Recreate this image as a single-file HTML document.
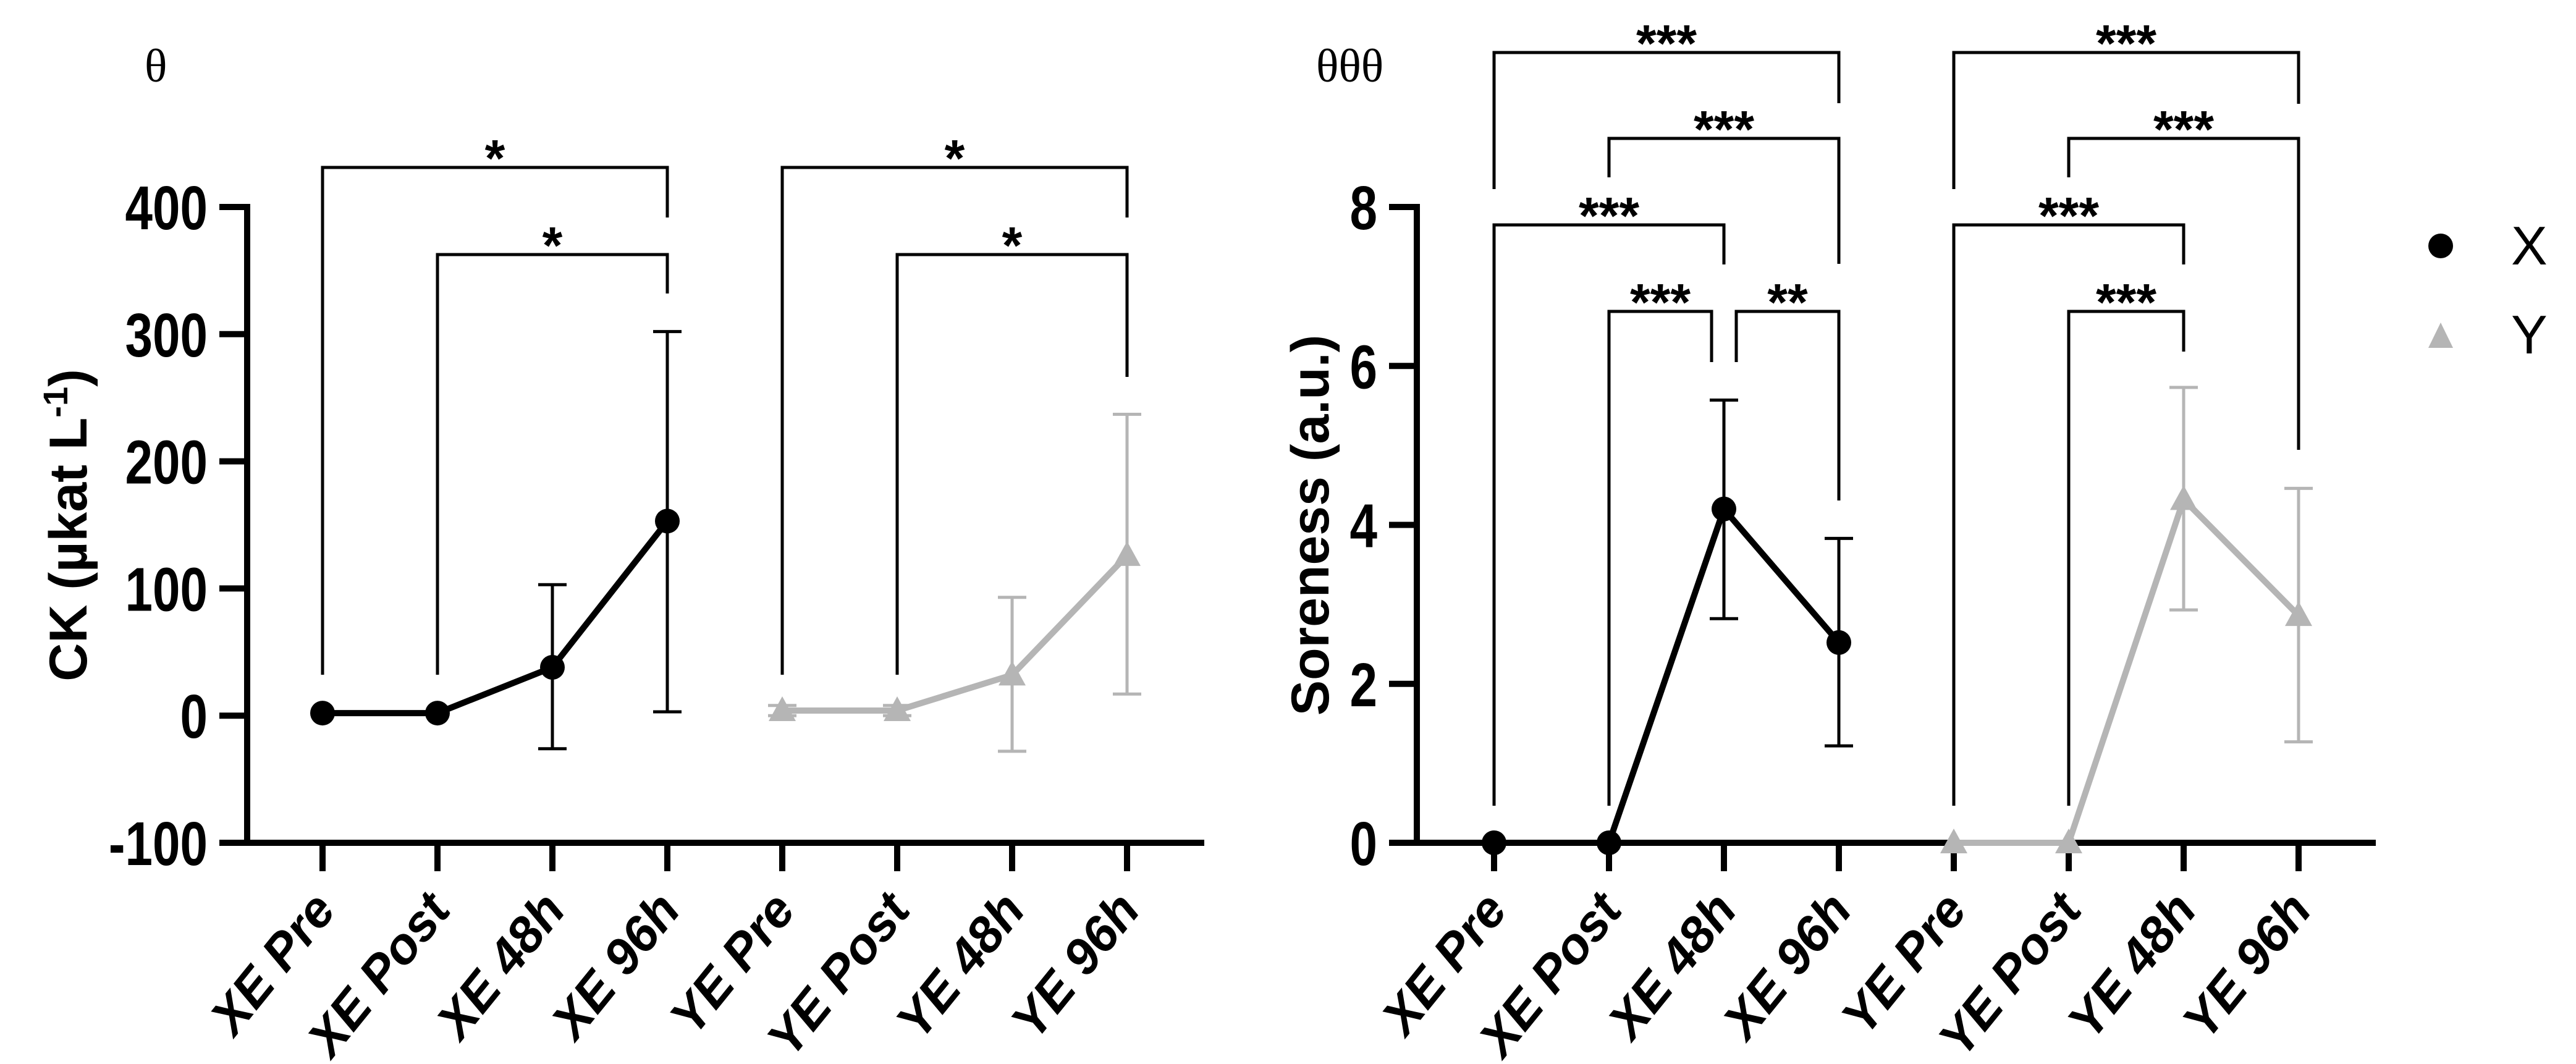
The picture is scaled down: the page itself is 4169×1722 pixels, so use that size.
<!DOCTYPE html>
<html><head><meta charset="utf-8"><style>
html,body{margin:0;padding:0;background:#fff;}
svg{display:block;}
text{font-family:"Liberation Sans",Arial,sans-serif;}
</style></head><body>
<svg id="fig" width="4169" height="1722" viewBox="0 0 4169 1722" xmlns="http://www.w3.org/2000/svg"></svg>
<script>
const categories = ["XE Pre","XE Post","XE 48h","XE 96h","YE Pre","YE Post","YE 48h","YE 96h"];
// CK chart
const ckTicks = [-100,0,100,200,300,400];
const ckXMean = [2,2,38,153];
const ckXLow  = [null,null,-26,3];
const ckXHigh = [null,null,103,302];
const ckYMean = [4,4,32,126];
const ckYLow  = [0,0,-28,17];
const ckYHigh = [8,8,93,237];
// Soreness chart
const soreTicks = [0,2,4,6,8];
const soreXMean = [0,0,4.2,2.52];
const soreXLow  = [null,null,2.82,1.22];
const soreXHigh = [null,null,5.57,3.83];
const soreYMean = [0,0,4.32,2.86];
const soreYLow  = [null,null,2.93,1.27];
const soreYHigh = [null,null,5.73,4.46];
const legendLabels = ["X","Y"];

const NS="http://www.w3.org/2000/svg";
const svg=document.getElementById('fig');
function mk(tag,attrs,parent,name){const e=document.createElementNS(NS,tag);for(const k in attrs)e.setAttribute(k,attrs[k]);


(parent||svg).appendChild(e);return e;}
const GRAY="#b5b5b5";

function chart(cfg){
  const g=mk('g',{},svg,cfg.name);
  const yTop=335,yBot=1364;
  const ys=v=>yBot-(v-cfg.min)/(cfg.max-cfg.min)*(yBot-yTop);
  const xs=i=>cfg.x0+i*cfg.step+(i>=4?cfg.gap:0);
  const xEnd=xs(7)+125;
  mk('line',{x1:cfg.ax,y1:yTop-5,x2:cfg.ax,y2:yBot+5,stroke:'#000','stroke-width':10},g,'y-axis-line');
  mk('line',{x1:cfg.ax-45,y1:yBot,x2:xEnd,y2:yBot,stroke:'#000','stroke-width':10},g,'x-axis-line');
  cfg.ticks.forEach(t=>{
    const y=ys(t);
    mk('line',{x1:cfg.ax-45,y1:y,x2:cfg.ax,y2:y,stroke:'#000','stroke-width':10},g,'y-tick');
    const tx=mk('text',{x:0,y:0,'text-anchor':'end','font-size':100,'font-weight':'bold',transform:`translate(${cfg.ax-64} ${y+36}) scale(0.8 1)`},g,'y-tick-label');
    tx.textContent=t;
  });
  categories.forEach((c,i)=>{
    const x=xs(i);
    mk('line',{x1:x,y1:yBot,x2:x,y2:yBot+46,stroke:'#000','stroke-width':10},g,'x-tick');
    const ax=x+24, ay=1474;
    const tx=mk('text',{x:ax,y:ay,'text-anchor':'end','font-size':82,'font-weight':'bold','font-style':'italic',transform:`rotate(-51 ${ax} ${ay})`},g,'x-tick-label');
    tx.textContent=c;
  });
  const yt=mk('text',{x:cfg.titleX,y:850,'text-anchor':'middle','font-size':86,'font-weight':'bold',transform:`rotate(-90 ${cfg.titleX} 850)`},g,'y-axis-title');
  yt.innerHTML=cfg.title;
  const th=mk('text',{x:cfg.thetaX,y:132,'font-size':76},g,'panel-label');
  th.setAttribute('style','font-family:"Liberation Serif",serif');
  th.textContent=cfg.theta;
  cfg.brackets.forEach(b=>{
    const x1=xs(b[0])+(b[5]||0),x2=xs(b[1])+(b[6]||0),y=b[2];
    mk('path',{d:`M${x1} ${b[3]} V${y} H${x2} V${b[4]}`,fill:'none',stroke:'#000','stroke-width':5},g,'significance-bracket');
    const s=mk('text',{x:(x1+x2)/2,y:y+14,'text-anchor':'middle','font-size':84,'font-weight':'bold'},g,'significance-stars');
    s.textContent=b[7];
  });
  cfg.series.forEach((s,si)=>{
    const sg=mk('g',{},g,si===0?'series-x':'series-y');
    const col=si===0?'#000':GRAY;
    const off=si===0?0:4;
    s.low.forEach((lo,i)=>{
      if(lo===null)return;const x=xs(i+off);
      mk('line',{x1:x,y1:ys(lo),x2:x,y2:ys(s.high[i]),stroke:col,'stroke-width':5},sg,'error-bar');
      mk('line',{x1:x-23,y1:ys(lo),x2:x+23,y2:ys(lo),stroke:col,'stroke-width':5},sg,'error-cap');
      mk('line',{x1:x-23,y1:ys(s.high[i]),x2:x+23,y2:ys(s.high[i]),stroke:col,'stroke-width':5},sg,'error-cap');
    });
    const pts=s.mean.map((v,i)=>`${xs(i+off)},${ys(v)}`).join(' ');
    mk('polyline',{points:pts,fill:'none',stroke:col,'stroke-width':10},sg,'series-line');
    s.mean.forEach((v,i)=>{
      const x=xs(i+off),y=ys(v);
      if(si===0)mk('circle',{cx:x,cy:y,r:20,fill:col},sg,'data-point');
      else mk('polygon',{points:`${x},${y-23} ${x-22},${y+17} ${x+22},${y+17}`,fill:col},sg,'data-point');
    });
  });
}

chart({name:'ck-chart',min:-100,max:400,ticks:ckTicks,ax:400,x0:522,step:186,gap:0,titleX:140,
  title:'CK (µkat L<tspan baseline-shift="super" font-size="56">-1</tspan>)',thetaX:234,theta:'θ',
  brackets:[[0,3,271,1092,352,0,0,'*'],[1,3,412,1092,475,0,0,'*'],[4,7,271,1092,352,0,0,'*'],[5,7,412,1092,610,0,0,'*']],
  series:[{mean:ckXMean,low:ckXLow,high:ckXHigh},{mean:ckYMean,low:ckYLow,high:ckYHigh}]});

chart({name:'soreness-chart',min:0,max:8,ticks:soreTicks,ax:2293,x0:2418,step:186,gap:0,titleX:2150,
  title:'Soreness (a.u.)',thetaX:2130,theta:'θθθ',
  brackets:[[0,3,85,306,167,0,0,'***'],[1,3,224,287,427,0,0,'***'],[0,2,364,1304,428,0,0,'***'],
    [1,2,504,1304,586,0,-20,'***'],[2,3,504,586,810,20,0,'**'],
    [4,7,85,306,168,0,0,'***'],[5,7,224,287,728,0,0,'***'],[4,6,364,1304,428,0,0,'***'],[5,6,504,1304,569,0,0,'***']],
  series:[{mean:soreXMean,low:soreXLow,high:soreXHigh},{mean:soreYMean,low:soreYLow,high:soreYHigh}]});

const lg=mk('g',{},svg,'legend');
const le1=mk('g',{},lg,'legend-entry-x');
mk('circle',{cx:3950,cy:398,r:20,fill:'#000'},le1,'legend-marker-x');
const t1=mk('text',{x:4064,y:428,'font-size':88},le1,'legend-label-x');t1.textContent=legendLabels[0];
const le2=mk('g',{},lg,'legend-entry-y');
mk('polygon',{points:'3950,522 3930,563 3970,563',fill:GRAY},le2,'legend-marker-y');
const t2=mk('text',{x:4064,y:572,'font-size':88},le2,'legend-label-y');t2.textContent=legendLabels[1];
</script>
</body></html>
